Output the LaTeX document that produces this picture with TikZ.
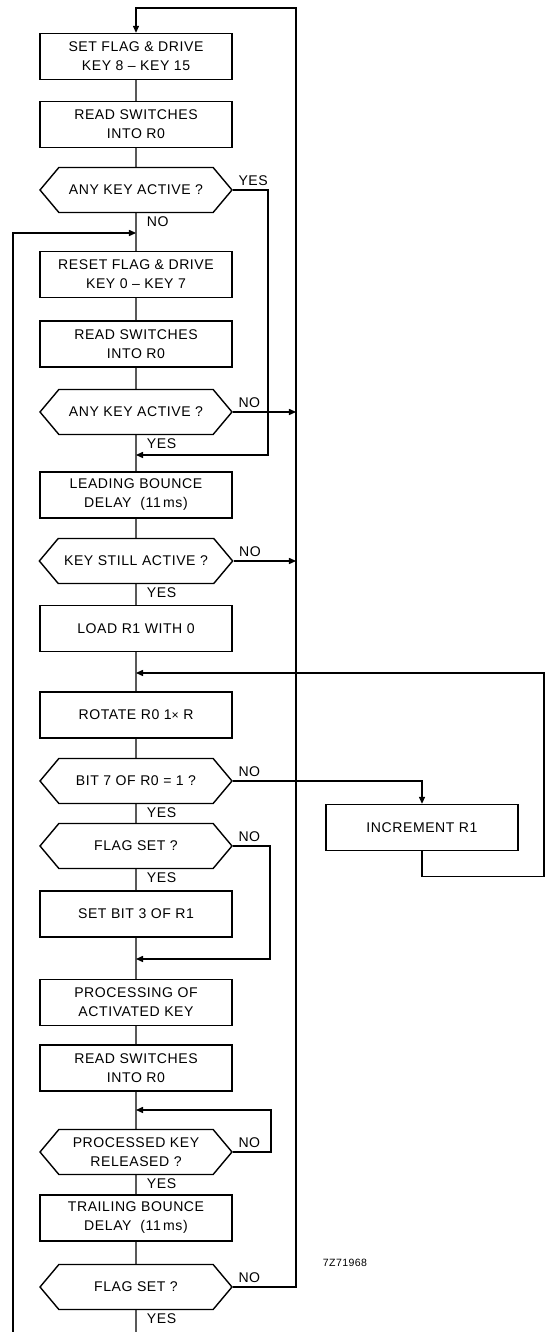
\documentclass[tikz,border=0pt]{standalone}
\usepackage{fontspec}
\setsansfont{Liberation Sans}[LetterSpace=4]
\usetikzlibrary{positioning, arrows.meta, shapes.symbols, calc}

\begin{document}
\begin{tikzpicture}[
    process/.style={rectangle, draw=black, line width=0.8pt, minimum width=3.84cm,
                    minimum height=0.92cm, font=\sffamily\fontsize{8}{10.8}\selectfont,
                    align=center},
    decision/.style={signal, signal to=west and east, signal pointer angle=100,
                     draw=black, line width=0.8pt, minimum width=3.84cm, minimum height=0.9cm,
                     font=\sffamily\fontsize{8}{10.8}\selectfont, align=center},
    answer/.style={font=\sffamily\fontsize{8}{9}\selectfont, inner sep=1pt},
    flow/.style={line width=0.6pt},
    flowarrow/.style={flow, -{Triangle[length=4pt, width=3.5pt]}}
]
    \useasboundingbox (0, 0) rectangle (11.1, 26.64);

    % Main column
    \node[process] (setdrive) at (2.72, 25.51) {SET FLAG \& DRIVE\\KEY 8 -- KEY 15};
    \node[process] (read1) at (2.72, 24.15) {READ SWITCHES\\INTO R0};
    \node[decision] (active1) at (2.72, 22.84) {ANY KEY ACTIVE ?};
    \node[process] (resetdrive) at (2.72, 21.15) {RESET FLAG \& DRIVE\\KEY 0 -- KEY 7};
    \node[process] (read2) at (2.72, 19.76) {READ SWITCHES\\INTO R0};
    \node[decision] (active2) at (2.72, 18.40) {ANY KEY ACTIVE ?};
    \node[process] (leading) at (2.72, 16.74) {LEADING BOUNCE\\DELAY \ (11\,ms)};
    \node[decision] (still) at (2.72, 15.42) {KEY STILL ACTIVE ?};
    \node[process] (load) at (2.72, 14.07) {LOAD R1 WITH 0};
    \node[process] (rotate) at (2.72, 12.34) {ROTATE R0 1{\scriptsize ×} R};
    \node[decision] (bit7) at (2.72, 11.02) {BIT 7 OF R0 = 1 ?};
    \node[decision] (flag1) at (2.72, 9.72) {FLAG SET ?};
    \node[process] (setbit) at (2.72, 8.36) {SET BIT 3 OF R1};
    \node[process] (processing) at (2.72, 6.59) {PROCESSING OF\\ACTIVATED KEY};
    \node[process] (read3) at (2.72, 5.28) {READ SWITCHES\\INTO R0};
    \node[decision] (released) at (2.72, 3.60) {PROCESSED KEY\\RELEASED ?};
    \node[process] (trailing) at (2.72, 2.28) {TRAILING BOUNCE\\DELAY \ (11\,ms)};
    \node[decision] (flag2) at (2.72, 0.90) {FLAG SET ?};

    % Side branch
    \node[process] (increment) at (8.44, 10.09) {INCREMENT R1};
    \node[font=\sffamily\fontsize{6}{7}\selectfont] (code) at (6.9, 1.38) {7Z71968};

    % Corner points of the return lines
    \coordinate (topright) at (5.92, 26.48);
    \coordinate (leftbottom) at (0.26, 0);
    \coordinate (mainbottom) at (2.72, 0);
    \coordinate (leftjoin) at (2.72, 21.98);
    \coordinate (yesright) at (5.36, 17.54);
    \coordinate (loopright) at (10.88, 13.18);
    \coordinate (flagright) at (5.40, 7.46);
    \coordinate (releasedright) at (5.42, 4.44);

    % Connectors
    \draw[flow] (setdrive) -- (read1) -- (active1) -- (resetdrive) -- (read2) -- (active2)
        -- (leading) -- (still) -- (load) -- (rotate) -- (bit7) -- (flag1) -- (setbit)
        -- (processing) -- (read3) -- (released) -- (trailing) -- (flag2) -- (mainbottom);
    \draw[flowarrow] (flag2.east) -| (topright) -| (setdrive.north);
    \draw[flowarrow] (active1.east) -| (yesright) -- (yesright -| leading.north);
    \draw[flowarrow] (active2.east) -- (active2.east -| topright);
    \draw[flowarrow] (still.east) -- (still.east -| topright);
    \draw[flowarrow] (leftbottom) |- (leftjoin);
    \draw[flowarrow] (bit7.east) -| (increment.north);
    \draw[flowarrow] (increment.south) -- ++(0, -0.5) -| (loopright) -- (loopright -| load.south);
    \draw[flowarrow] (flag1.east) -| (flagright) -- (flagright -| setbit.south);
    \draw[flowarrow] (released.east) -| (releasedright) -- (releasedright -| read3.south);

    % Answers
    \node[answer, above right=1pt and 2pt of active1.east] (active1yes) {YES};
    \node[answer, below right=1pt and 5pt of active1.south] (active1no) {NO};
    \node[answer, above right=1pt and 2pt of active2.east] (active2no) {NO};
    \node[answer, below right=1pt and 5pt of active2.south] (active2yes) {YES};
    \node[answer, above right=1pt and 2pt of still.east] (stillno) {NO};
    \node[answer, below right=1pt and 5pt of still.south] (stillyes) {YES};
    \node[answer, above right=1pt and 2pt of bit7.east] (bit7no) {NO};
    \node[answer, below right=1pt and 5pt of bit7.south] (bit7yes) {YES};
    \node[answer, above right=1pt and 2pt of flag1.east] (flag1no) {NO};
    \node[answer, below right=1pt and 5pt of flag1.south] (flag1yes) {YES};
    \node[answer, above right=1pt and 2pt of released.east] (releasedno) {NO};
    \node[answer, below right=1pt and 5pt of released.south] (releasedyes) {YES};
    \node[answer, above right=1pt and 2pt of flag2.east] (flag2no) {NO};
    \node[answer, below right=1pt and 5pt of flag2.south] (flag2yes) {YES};
\end{tikzpicture}
\end{document}
